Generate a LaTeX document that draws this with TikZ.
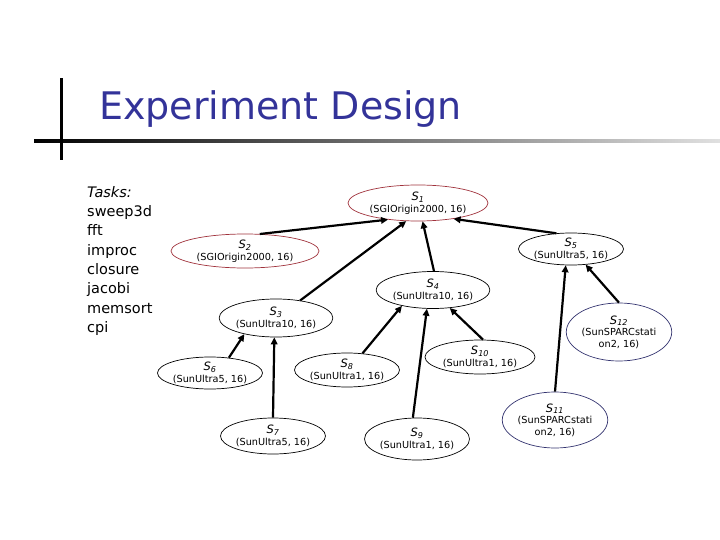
\documentclass[tikz,border=0pt]{standalone}
\usepackage{fontspec}
\setmainfont{DejaVu Sans}
\usetikzlibrary{shapes.geometric,arrows.meta}
\definecolor{titleblue}{RGB}{51,51,153}
\definecolor{redline}{RGB}{160,50,60}
\definecolor{blueline}{RGB}{50,50,110}
\tikzset{
  snode/.style={ellipse, draw=black, line width=0.7pt, inner sep=0pt, align=center,
    font=\fontsize{9.7}{11.5}\selectfont},
  rednode/.style={snode, draw=redline},
  bluenode/.style={snode, draw=blueline},
  arr/.style={line width=2.2pt, -{Triangle[length=7pt,width=6.5pt]}},
}
\newcommand{\lab}[1]{{\fontsize{11.5}{12}\selectfont\itshape S\textsubscript{#1}}}
\begin{document}
\begin{tikzpicture}[x=1pt,y=-1pt]
\useasboundingbox (0,0) rectangle (720,540);
% decoration
\shade[left color=black, right color=black!12] (34,139.5) rectangle (720,142.5);
\fill[black] (59.5,78) rectangle (62.5,160);
\node[anchor=base west, inner sep=0, text=titleblue, font=\fontsize{38}{42}\selectfont] (title) at (99,120) {Experiment Design};
% tasks
\node[anchor=north west, inner sep=0, align=left, font=\fontsize{14.5}{19.3}\selectfont] (tasks) at (87,186)
 {\textit{Tasks:}\\sweep3d\\fft\\improc\\closure\\jacobi\\memsort\\cpi};
% nodes
\node[rednode, minimum width=140, minimum height=36] (s1) at (418,203) {\lab{1}\\(SGIOrigin2000, 16)};
\node[rednode, minimum width=148, minimum height=34] (s2) at (245,251) {\lab{2}\\(SGIOrigin2000, 16)};
\node[snode, minimum width=104, minimum height=32] (s5) at (571,249) {\lab{5}\\(SunUltra5, 16)};
\node[snode, minimum width=112, minimum height=37] (s4) at (433,290) {\lab{4}\\(SunUltra10, 16)};
\node[snode, minimum width=108, minimum height=38] (s3) at (276,318) {\lab{3}\\(SunUltra10, 16)};
\node[bluenode, minimum width=96, minimum height=58] (s12) at (619,332) {\lab{12}\\(SunSPARCstati\\on2, 16)};
\node[snode, minimum width=96, minimum height=32] (s6) at (210,373) {\lab{6}\\(SunUltra5, 16)};
\node[snode, minimum width=102, minimum height=34] (s8) at (347,370) {\lab{8}\\(SunUltra1, 16)};
\node[snode, minimum width=110, minimum height=34] (s10) at (480,357) {\lab{10}\\(SunUltra1, 16)};
\node[snode, minimum width=104, minimum height=36] (s7) at (273,436) {\lab{7}\\(SunUltra5, 16)};
\node[snode, minimum width=104, minimum height=42] (s9) at (417,439) {\lab{9}\\(SunUltra1, 16)};
\node[bluenode, minimum width=104, minimum height=56] (s11) at (555,420) {\lab{11}\\(SunSPARCstati\\on2, 16)};
% edges
\draw[arr] (s2.49) -- (s1.209);
\draw[arr] (s3.36) -- (s1.237);
\draw[arr] (s4.87) -- (s1.284);
\draw[arr] (s5.133) -- (s1.336);
\draw[arr] (s6.39) -- (s3.207);
\draw[arr] (s7.90) -- (s3.265);
\draw[arr] (s8.47) -- (s4.207);
\draw[arr] (s9.101) -- (s4.252);
\draw[arr] (s10.80) -- (s4.313);
\draw[arr] (s11.90) -- (s5.252);
\draw[arr] (s12.90) -- (s5.313);
\end{tikzpicture}
\end{document}
